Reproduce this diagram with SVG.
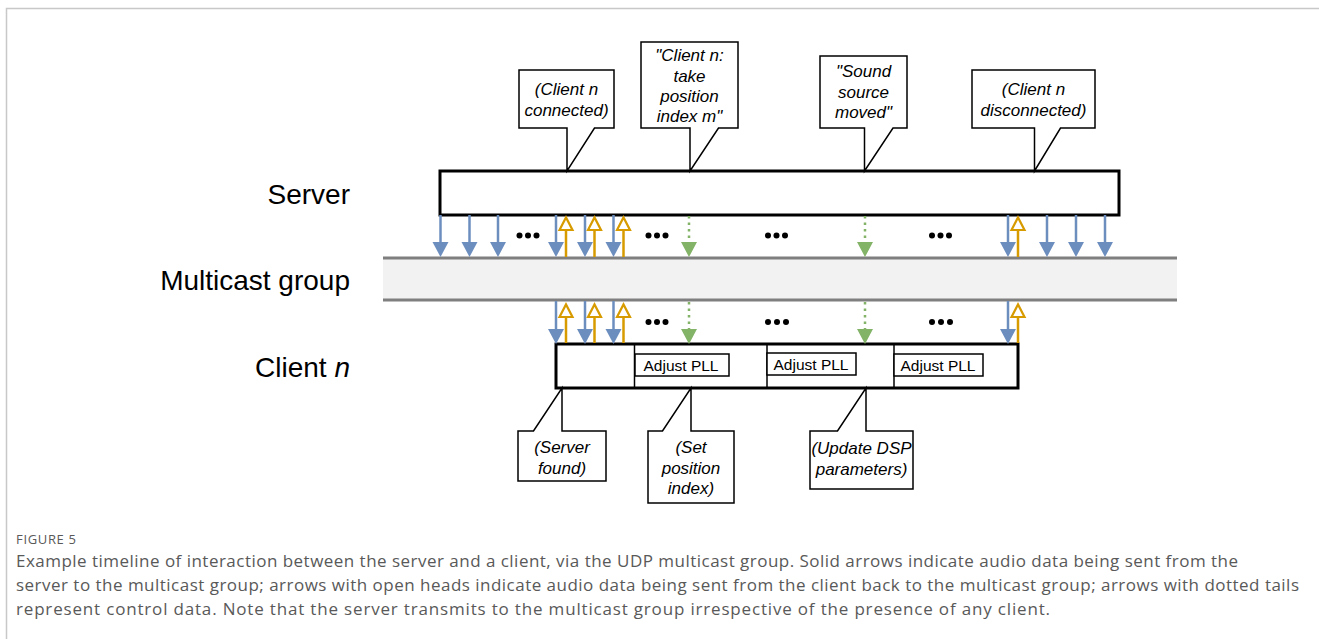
<svg xmlns="http://www.w3.org/2000/svg" width="1319" height="639" viewBox="0 0 1319 639">
<style>
.lbl{font-family:"Liberation Sans",Arial,sans-serif;font-size:28px;fill:#000}
.co{font-family:"Liberation Sans",Arial,sans-serif;font-size:17px;font-style:italic;fill:#000;text-anchor:middle}
.pll{font-family:"Liberation Sans",Arial,sans-serif;font-size:15.5px;fill:#000;text-anchor:middle}
.callout{fill:#fff;stroke:#000;stroke-width:1.5;stroke-linejoin:miter}
.bar{fill:#fff;stroke:#000;stroke-width:3}
.blue{stroke:#6c8ebf;stroke-width:2.5}
.orange{stroke:#d79b00;stroke-width:2.5}
.green{stroke:#82b366;stroke-width:2.5;stroke-dasharray:2.5 4}
.cap{font-family:"Open Sans","Noto Sans",sans-serif;fill:#595959}
</style>
<defs>
<marker id="hb" markerUnits="userSpaceOnUse" markerWidth="16" markerHeight="16" refX="0" refY="8" orient="auto" overflow="visible">
<path d="M0,0 L15,8 L0,16 Z" fill="#6c8ebf"/>
</marker>
<marker id="hg" markerUnits="userSpaceOnUse" markerWidth="16" markerHeight="16" refX="0" refY="8" orient="auto" overflow="visible">
<path d="M0,0 L15,8 L0,16 Z" fill="#82b366"/>
</marker>
<marker id="ho" markerUnits="userSpaceOnUse" markerWidth="16" markerHeight="16" refX="0" refY="7" orient="auto" overflow="visible">
<path d="M0,0.5 L12.5,7 L0,13.5 Z" fill="#fff" stroke="#d79b00" stroke-width="2.2" stroke-linejoin="miter"/>
</marker>
</defs>
<rect width="1319" height="639" fill="#fff"/>
<path d="M6.5,639 V8.5 H1319" fill="none" stroke="#c8c8c8" stroke-width="1.5"/>

<g id="labels">
<text class="lbl" x="350" y="204" text-anchor="end">Server</text>
<text class="lbl" x="350" y="290" text-anchor="end">Multicast group</text>
<text class="lbl" x="350" y="377" text-anchor="end">Client <tspan font-style="italic">n</tspan></text>
</g>

<g id="multicast">
<rect x="383" y="258" width="794" height="42" fill="#f2f2f2"/>
<line x1="383" y1="258" x2="1177" y2="258" stroke="#7f7f7f" stroke-width="3"/>
<line x1="383" y1="300" x2="1177" y2="300" stroke="#7f7f7f" stroke-width="3"/>
</g>

<g id="server">
<rect class="bar" x="440" y="171" width="679" height="44"/>
</g>

<g id="client">
<rect class="bar" x="556" y="344" width="462" height="44"/>
<line x1="634.5" y1="344" x2="634.5" y2="388" stroke="#000" stroke-width="1.5"/>
<line x1="767" y1="344" x2="767" y2="388" stroke="#000" stroke-width="1.5"/>
<line x1="894" y1="344" x2="894" y2="388" stroke="#000" stroke-width="1.5"/>
<g id="pll1"><rect x="635" y="354" width="94" height="22" fill="#fff" stroke="#000" stroke-width="1.5"/><text class="pll" x="681" y="371">Adjust PLL</text></g>
<g id="pll2"><rect x="767" y="353" width="89" height="22" fill="#fff" stroke="#000" stroke-width="1.5"/><text class="pll" x="811" y="369.5">Adjust PLL</text></g>
<g id="pll3"><rect x="894" y="354" width="89" height="22" fill="#fff" stroke="#000" stroke-width="1.5"/><text class="pll" x="938" y="370.5">Adjust PLL</text></g>
</g>

<g id="connectors">
<line class="blue" x1="440.5" y1="215" x2="440.5" y2="242" marker-end="url(#hb)"/>
<line class="blue" x1="469.5" y1="215" x2="469.5" y2="242" marker-end="url(#hb)"/>
<line class="blue" x1="498" y1="215" x2="498" y2="242" marker-end="url(#hb)"/>
<line class="blue" x1="556" y1="215" x2="556" y2="242" marker-end="url(#hb)"/>
<line class="blue" x1="585" y1="215" x2="585" y2="242" marker-end="url(#hb)"/>
<line class="blue" x1="613.5" y1="215" x2="613.5" y2="242" marker-end="url(#hb)"/>
<line class="blue" x1="1008" y1="215" x2="1008" y2="242" marker-end="url(#hb)"/>
<line class="blue" x1="1047" y1="215" x2="1047" y2="242" marker-end="url(#hb)"/>
<line class="blue" x1="1076" y1="215" x2="1076" y2="242" marker-end="url(#hb)"/>
<line class="blue" x1="1105" y1="215" x2="1105" y2="242" marker-end="url(#hb)"/>
<line class="orange" x1="566" y1="257" x2="566" y2="230" marker-end="url(#ho)"/>
<line class="orange" x1="594.5" y1="257" x2="594.5" y2="230" marker-end="url(#ho)"/>
<line class="orange" x1="623.5" y1="257" x2="623.5" y2="230" marker-end="url(#ho)"/>
<line class="orange" x1="1018" y1="257" x2="1018" y2="230" marker-end="url(#ho)"/>
<line class="green" x1="689" y1="216" x2="689" y2="242" marker-end="url(#hg)"/>
<line class="green" x1="865" y1="216" x2="865" y2="242" marker-end="url(#hg)"/>
<line class="blue" x1="556" y1="301" x2="556" y2="329" marker-end="url(#hb)"/>
<line class="blue" x1="585" y1="301" x2="585" y2="329" marker-end="url(#hb)"/>
<line class="blue" x1="613.5" y1="301" x2="613.5" y2="329" marker-end="url(#hb)"/>
<line class="blue" x1="1008" y1="301" x2="1008" y2="329" marker-end="url(#hb)"/>
<line class="orange" x1="566" y1="343" x2="566" y2="317" marker-end="url(#ho)"/>
<line class="orange" x1="594.5" y1="343" x2="594.5" y2="317" marker-end="url(#ho)"/>
<line class="orange" x1="623.5" y1="343" x2="623.5" y2="317" marker-end="url(#ho)"/>
<line class="orange" x1="1018" y1="343" x2="1018" y2="317" marker-end="url(#ho)"/>
<line class="green" x1="689" y1="302" x2="689" y2="329" marker-end="url(#hg)"/>
<line class="green" x1="865" y1="302" x2="865" y2="329" marker-end="url(#hg)"/>
</g>

<g id="ellipses" fill="#000">
<circle cx="519.5" cy="235.5" r="3"/><circle cx="528" cy="235.5" r="3"/><circle cx="536.5" cy="235.5" r="3"/>
<circle cx="648.5" cy="235.5" r="3"/><circle cx="657" cy="235.5" r="3"/><circle cx="665.5" cy="235.5" r="3"/>
<circle cx="768" cy="235.5" r="3"/><circle cx="776.5" cy="235.5" r="3"/><circle cx="785" cy="235.5" r="3"/>
<circle cx="932" cy="235.5" r="3"/><circle cx="940.5" cy="235.5" r="3"/><circle cx="949" cy="235.5" r="3"/>
<circle cx="648.5" cy="322" r="3"/><circle cx="657" cy="322" r="3"/><circle cx="665.5" cy="322" r="3"/>
<circle cx="768" cy="322" r="3"/><circle cx="777" cy="322" r="3"/><circle cx="786" cy="322" r="3"/>
<circle cx="932" cy="322" r="3"/><circle cx="941" cy="322" r="3"/><circle cx="950" cy="322" r="3"/>
</g>

<g id="callout-connected">
<path class="callout" d="M519,70 H614 V128 H594.5 L567,171 V128 H519 Z"/>
<text class="co" x="566.5" y="95">(Client n</text>
<text class="co" x="566.5" y="116">connected)</text>
</g>
<g id="callout-take-position">
<path class="callout" d="M641,42 H738 V128 H718.5 L690,171 V128 H641 Z"/>
<text class="co" x="689.5" y="61">"Client n:</text>
<text class="co" x="689.5" y="81.5">take</text>
<text class="co" x="689.5" y="102">position</text>
<text class="co" x="689.5" y="122">index m"</text>
</g>
<g id="callout-sound-moved">
<path class="callout" d="M820,56 H907 V128 H893 L864.5,171 V128 H820 Z"/>
<text class="co" x="863.5" y="77">"Sound</text>
<text class="co" x="863.5" y="97.5">source</text>
<text class="co" x="863.5" y="118">moved"</text>
</g>
<g id="callout-disconnected">
<path class="callout" d="M972,70 H1095 V128 H1060.5 L1034.5,171 V128 H972 Z"/>
<text class="co" x="1033.5" y="95">(Client n</text>
<text class="co" x="1033.5" y="116">disconnected)</text>
</g>
<g id="callout-server-found">
<path class="callout" d="M518,431 H533.5 L562,388 V431 H606 V481 H518 Z"/>
<text class="co" x="562" y="453">(Server</text>
<text class="co" x="562" y="473.5">found)</text>
</g>
<g id="callout-set-position">
<path class="callout" d="M648,431 H662.5 L691,388 V431 H734 V503 H648 Z"/>
<text class="co" x="691" y="453">(Set</text>
<text class="co" x="691" y="473.5">position</text>
<text class="co" x="691" y="494">index)</text>
</g>
<g id="callout-update-dsp">
<path class="callout" d="M810,431 H837.5 L866,388 V431 H913 V489 H810 Z"/>
<text class="co" x="861.5" y="454" font-size="16.3">(Update DSP</text>
<text class="co" x="861.5" y="474.5" font-size="16.3">parameters)</text>
</g>

<g id="caption">
<text class="cap" x="16" y="544" font-size="13" fill="#666" textLength="60" lengthAdjust="spacing">FIGURE 5</text>
<text class="cap" x="16" y="567" font-size="17" textLength="1222" lengthAdjust="spacing">Example timeline of interaction between the server and a client, via the UDP multicast group. Solid arrows indicate audio data being sent from the</text>
<text class="cap" x="16" y="591" font-size="17" textLength="1283" lengthAdjust="spacing">server to the multicast group; arrows with open heads indicate audio data being sent from the client back to the multicast group; arrows with dotted tails</text>
<text class="cap" x="16" y="615" font-size="17" textLength="1034" lengthAdjust="spacing">represent control data. Note that the server transmits to the multicast group irrespective of the presence of any client.</text>
</g>
</svg>
